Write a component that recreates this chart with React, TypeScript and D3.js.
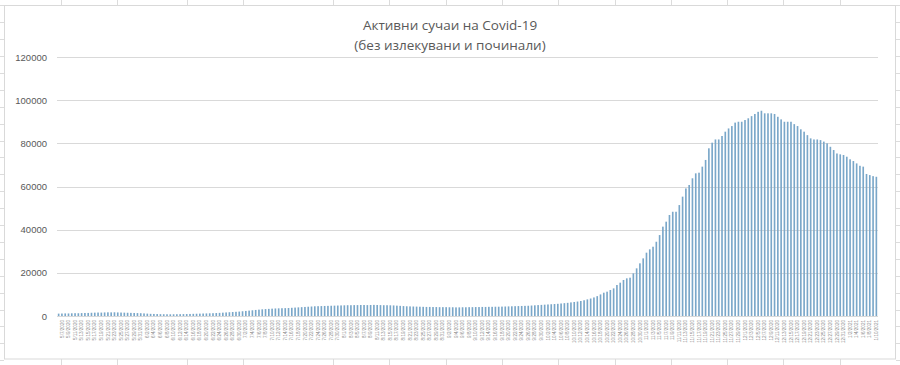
import React from 'react';
import * as d3 from 'd3';

const TITLE_LINES = ['Активни сучаи на Covid-19', '(без излекувани и починали)'];
const Y_TICKS = [0, 20000, 40000, 60000, 80000, 100000, 120000];
const START_DATE = '2020-05-06';

const ACTIVE_CASES = [
  1100, 1150, 1200, 1180, 1250, 1300, 1280, 1350, 1400, 1420,
  1500, 1550, 1600, 1580, 1650, 1700, 1680, 1720, 1650, 1600,
  1550, 1500, 1450, 1400, 1350, 1300, 1200, 1100, 1000, 950,
  900, 850, 820, 800, 780, 800, 820, 850, 880, 900,
  950, 1000, 1050, 1100, 1150, 1200, 1250, 1300, 1380, 1450,
  1550, 1650, 1750, 1850, 1950, 2050, 2200, 2350, 2500, 2650,
  2800, 2950, 3100, 3200, 3300, 3400, 3500, 3550, 3600, 3650,
  3700, 3800, 3900, 4000, 4100, 4200, 4300, 4400, 4500, 4550,
  4600, 4650, 4700, 4750, 4800, 4850, 4900, 4950, 5000, 5000,
  5050, 5050, 5100, 5100, 5050, 5100, 5150, 5100, 5050, 5000,
  5000, 4950, 4900, 4800, 4700, 4600, 4500, 4450, 4400, 4350,
  4300, 4250, 4200, 4200, 4150, 4150, 4100, 4100, 4100, 4050,
  4050, 4000, 4000, 4050, 4050, 4100, 4100, 4150, 4150, 4200,
  4200, 4250, 4250, 4300, 4300, 4350, 4400, 4450, 4500, 4550,
  4600, 4650, 4700, 4750, 4850, 4950, 5050, 5150, 5250, 5350,
  5450, 5550, 5650, 5800, 5950, 6100, 6300, 6500, 6700, 6950,
  7300, 7700, 8100, 8600, 9200, 10000,
  10800, 11270, 12040, 12800, 14360, 15440, 16680, 17450, 17760, 19760,
  22080, 24400, 26700, 29340, 30880, 32100, 34400, 37500, 41400, 43700,
  46800, 48300, 48300, 51400, 55300, 59100, 60700, 63800, 66100, 66400,
  69200, 72300, 77700, 80300, 81800, 81800, 83400, 85400, 86900, 88000,
  89600, 90000, 90000, 90800, 91600, 92600, 93600, 94600, 95100, 93900,
  93900, 93900, 93600, 92300, 91100, 90000, 90000, 90000, 88900, 88000,
  86500, 85400, 83800, 82300, 81800, 81800, 81500, 80800, 80000, 78400,
  76900, 75300, 74900, 74600, 73800, 72600, 71800, 70700, 69600, 69200,
  65800, 65300, 64800, 64500,
];

const COLUMN_LINES = [61, 117, 187, 243, 333, 389, 446, 502, 558, 615, 671, 727, 783, 840];

export default function App() {
  const W = 900;
  const H = 365;
  const start = d3.utcParse('%Y-%m-%d')(START_DATE) as Date;
  const fmt = d3.utcFormat('%-m/%-d/%Y');
  const categories = ACTIVE_CASES.map((_, i) => fmt(d3.utcDay.offset(start, i)));

  const x = d3
    .scaleBand<string>()
    .domain(categories)
    .range([57, 878])
    .paddingInner(0.5)
    .paddingOuter(0.25);
  const y = d3.scaleLinear().domain([0, 120000]).range([316, 57]);

  const rowLines = d3.range(0, 22).map((k) => 5.3 + 16.9 * k);

  const font = "'Liberation Sans', Arial, sans-serif";
  const titleFont = "'Open Sans', 'Liberation Sans', sans-serif";

  return (
    <svg
      width={W}
      height={H}
      style={{ position: 'absolute', left: 0, top: 0, background: '#fff' }}
    >
      {/* spreadsheet background cells */}
      <g stroke="#dcdcdc" strokeWidth={1}>
        {COLUMN_LINES.map((c) => (
          <line key={'ct' + c} x1={c + 0.5} x2={c + 0.5} y1={0} y2={5} />
        ))}
        {COLUMN_LINES.map((c) => (
          <line key={'cb' + c} x1={c + 0.5} x2={c + 0.5} y1={359} y2={H} />
        ))}
        {rowLines.map((r) => (
          <line key={'rl' + r} x1={0} x2={4} y1={Math.round(r) + 0.5} y2={Math.round(r) + 0.5} />
        ))}
        {rowLines.map((r) => (
          <line key={'rr' + r} x1={896} x2={W} y1={Math.round(r) + 0.5} y2={Math.round(r) + 0.5} />
        ))}
      </g>
      {/* chart area border */}
      <rect x={4.5} y={5.5} width={891} height={353.5} fill="#fff" stroke="#d9d9d9" />

      {/* title */}
      <g fill="#595959" fontFamily={titleFont} fontSize={13.5} textAnchor="middle">
        <text x={450} y={30}>{TITLE_LINES[0]}</text>
        <text x={450} y={49.5}>{TITLE_LINES[1]}</text>
      </g>

      {/* gridlines */}
      <g stroke="#d9d9d9" strokeWidth={1}>
        {Y_TICKS.map((t) => (
          <line key={'g' + t} x1={57} x2={878} y1={Math.round(y(t)) + 0.5} y2={Math.round(y(t)) + 0.5} />
        ))}
      </g>

      {/* y labels */}
      <g fill="#595959" fontFamily={font} fontSize={9.5} textAnchor="end">
        {Y_TICKS.map((t) => (
          <text key={'yl' + t} x={47} y={y(t) + 3.5}>
            {t}
          </text>
        ))}
      </g>

      {/* bars */}
      <g fill="#7aa7c9">
        {ACTIVE_CASES.map((v, i) => (
          <rect
            key={'b' + i}
            x={x(categories[i])}
            y={y(v)}
            width={x.bandwidth()}
            height={y(0) - y(v)}
          />
        ))}
      </g>

      {/* x labels */}
      <g fill="#8a8a8a" fontFamily={font} fontSize={4.6} textAnchor="end">
        {categories.map((c, i) =>
          i % 2 === 1 ? (
            <text
              key={'xl' + i}
              transform={`translate(${(x(c) as number) + x.bandwidth() / 2 + 1.6},320) rotate(-90)`}
            >
              {c}
            </text>
          ) : null
        )}
      </g>
    </svg>
  );
}
